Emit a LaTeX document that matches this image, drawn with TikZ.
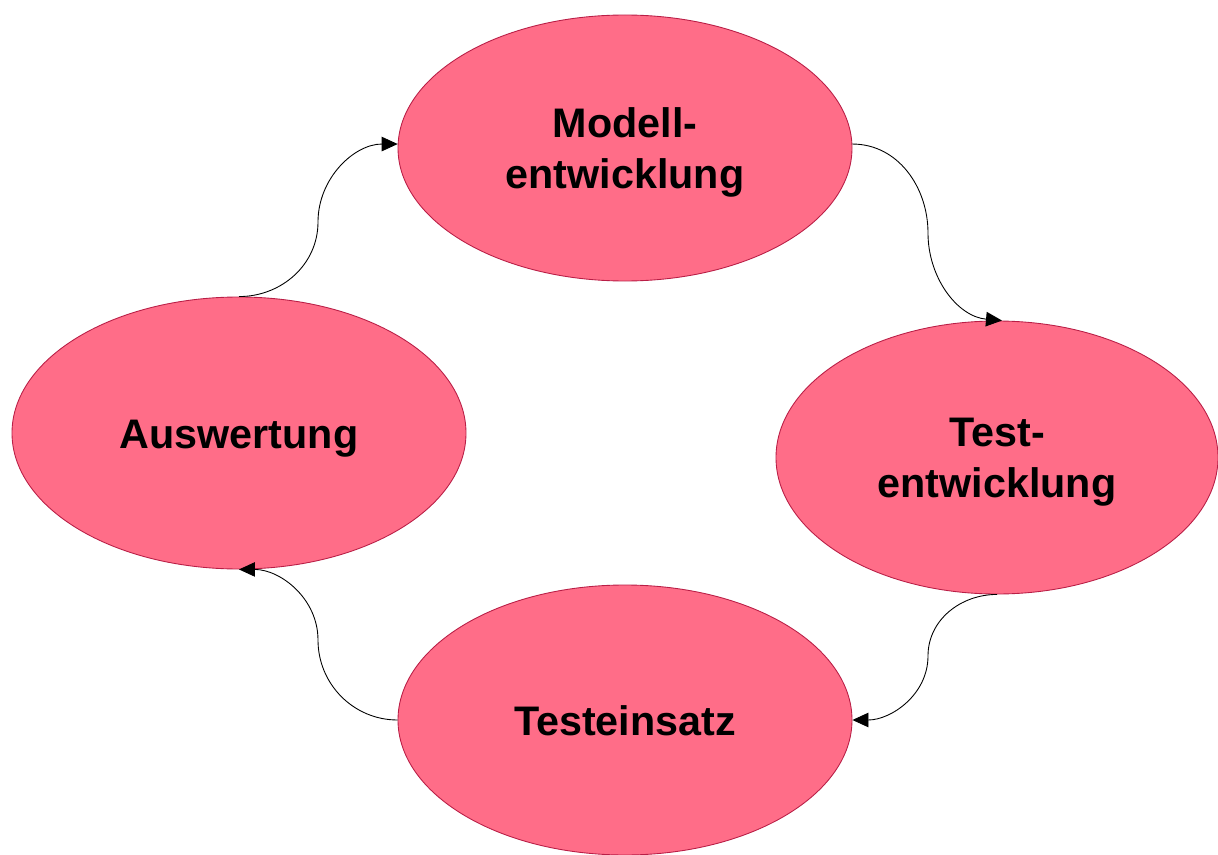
\documentclass[tikz,border=0pt]{standalone}
\usepackage{fontspec}
\setmainfont{Liberation Sans}
\usetikzlibrary{shapes.geometric,arrows.meta}
\definecolor{pinkfill}{RGB}{255,109,136}
\definecolor{pinkline}{RGB}{185,30,70}
\tikzset{
  phase/.style={ellipse, draw=pinkline, line width=0.5pt, fill=pinkfill, inner sep=0pt,
    align=center, font=\fontsize{23.5}{29}\selectfont\bfseries, text height=20pt, text depth=1.86pt},
  twoline/.style={text height=47.8pt},
  flow/.style={draw=black, line width=0.5pt, -{Triangle[length=0.32cm,width=0.29cm]}}
}
\begin{document}
\begin{tikzpicture}[x=0.02cm,y=-0.02cm]
\useasboundingbox (0,0) rectangle (1218,855);
\node[phase, twoline, minimum width=454*0.02cm, minimum height=266*0.02cm] (m) at (625,148) {Modell-\\entwicklung};
\node[phase, twoline, minimum width=442*0.02cm, minimum height=273*0.02cm] (t) at (997,457.5) {Test-\\entwicklung};
\node[phase, minimum width=454*0.02cm, minimum height=272*0.02cm] (a) at (239,433) {Auswertung};
\node[phase, minimum width=454*0.02cm, minimum height=270*0.02cm] (b) at (625,720) {Testeinsatz};
\coordinate (c1) at (928,233);
\coordinate (c2) at (928,656);
\coordinate (c3) at (318,640);
\coordinate (c4) at (318,222);
\draw[flow] (m.1) to[out=0,in=90] (c1) to[out=-90,in=175] ([xshift=0.1cm]t.north);
\draw[flow] (t.south) to[out=180,in=90] (c2) to[out=-90,in=0] (b.east);
\draw[flow] (b.west) to[out=180,in=-90] (c3) to[out=90,in=0] (a.south);
\draw[flow] (a.north) to[out=0,in=-90] (c4) to[out=90,in=180] (m.179);
\end{tikzpicture}
\end{document}
